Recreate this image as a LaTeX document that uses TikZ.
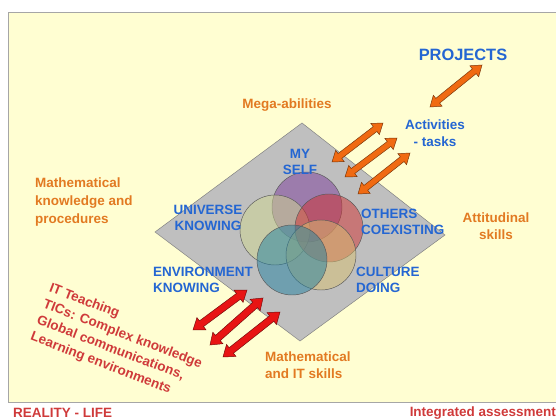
\documentclass[tikz,border=0pt]{standalone}
\usepackage{fontspec}
\setmainfont{Liberation Sans}
\usetikzlibrary{calc}
\definecolor{bgyellow}{HTML}{FFFED2}
\definecolor{lblblue}{HTML}{2466D2}
\definecolor{lblorange}{HTML}{E27A22}
\definecolor{lblred}{HTML}{CF3A3A}
\definecolor{diagray}{HTML}{BFBFBF}
\definecolor{arrorange}{HTML}{F06A12}
\definecolor{arrred}{HTML}{E81414}
\definecolor{cpurple}{HTML}{7A3A9A}
\definecolor{cgreen}{HTML}{D0D890}
\definecolor{cred}{HTML}{D03030}
\definecolor{cteal}{HTML}{2080A0}
\definecolor{ctan}{HTML}{D8C070}

\begin{document}
\begin{tikzpicture}[x=0.3mm,y=-0.3mm,
  dblarrow/.style n args={3}{to path={
    (\tikztostart)
    -- ($(\tikztostart)!#3!(\tikztotarget)!#1!90:(\tikztotarget)$)
    -- ($(\tikztostart)!#3!(\tikztotarget)!#2!90:(\tikztotarget)$)
    -- ($(\tikztotarget)!#3!(\tikztostart)!#2!-90:(\tikztostart)$)
    -- ($(\tikztotarget)!#3!(\tikztostart)!#1!-90:(\tikztostart)$)
    -- (\tikztotarget)
    -- ($(\tikztotarget)!#3!(\tikztostart)!#1!90:(\tikztostart)$)
    -- ($(\tikztotarget)!#3!(\tikztostart)!#2!90:(\tikztostart)$)
    -- ($(\tikztostart)!#3!(\tikztotarget)!#2!-90:(\tikztotarget)$)
    -- ($(\tikztostart)!#3!(\tikztotarget)!#1!-90:(\tikztotarget)$)
    -- cycle}},
  orange arrow/.style={dblarrow={6pt}{2.6pt}{8.5pt}, fill=arrorange, draw=arrorange!50!black, thin},
  red arrow/.style={dblarrow={6.5pt}{3pt}{9pt}, fill=arrred, draw=arrred!50!black, thin},
  blue lbl/.style={font=\bfseries\fontsize{11.5}{13.2}\selectfont, text=lblblue, align=center, inner sep=0pt},
  orange lbl/.style={font=\bfseries\fontsize{11.5}{15}\selectfont, text=lblorange, align=center, inner sep=0pt},
  red lbl/.style={font=\bfseries\fontsize{11.5}{14.8}\selectfont, text=lblred, inner sep=0pt},
  venn/.style={fill opacity=0.5, draw=black!65, thin}]
  \useasboundingbox (0,0) rectangle (556,419);
  % frame and diamond
  \draw[fill=bgyellow, draw=black!35, semithick] (8,12) rectangle (560,402);
  \draw[fill=diagray, draw=black!50, thin] (302,123) -- (445,235) -- (300,341) -- (155,232) -- cycle;
  % circles
  \draw[venn, fill=cpurple] (307,207) circle[radius=35];
  \draw[venn, fill=cgreen] (275,230) circle[radius=35];
  \draw[venn, fill=cred] (329,228) circle[radius=34];
  \draw[venn, fill=ctan] (321,255) circle[radius=35];
  \draw[venn, fill=cteal] (292,260) circle[radius=35];
  % labels
  \node[blue lbl, font=\bfseries\fontsize{14}{16}\selectfont] (PROJ) at (463,55) {PROJECTS};
  \node[blue lbl, font=\bfseries\fontsize{11.5}{14.5}\selectfont] (ACT) at (435,133) {Activities\\- tasks};
  \node[orange lbl] (MEGA) at (287,105) {Mega-abilities};
  \node[orange lbl, align=left, anchor=west] (MKP) at (35,202) {Mathematical\\knowledge and\\procedures};
  \node[orange lbl] (ATT) at (496,226) {Attitudinal\\skills};
  \node[orange lbl, align=left, anchor=west] (MIT) at (265,365) {Mathematical\\and IT skills};
  \node[blue lbl] (SELF) at (300,162) {MY\\SELF};
  \node[blue lbl] (UNIV) at (208,218) {UNIVERSE\\KNOWING};
  \node[blue lbl, align=left, anchor=west] (OTH) at (361,222) {OTHERS\\COEXISTING};
  \node[blue lbl, align=left, anchor=west] (ENV) at (153,280) {ENVIRONMENT\\KNOWING};
  \node[blue lbl, align=left, anchor=west] (CULT) at (356,280) {CULTURE\\DOING};
  \node[red lbl, rotate=-21, anchor=north west, align=left] (ITT) at (52,282)
    {IT Teaching\\TICs: Complex knowledge\\Global communications,\\Learning environments};
  \node[red lbl, anchor=west] (REAL) at (13,413) {REALITY - LIFE};
  \node[red lbl, anchor=east] (INTEG) at (556,413) {Integrated assessment};
  % arrow ends
  \coordinate (P1) at (430,107); \coordinate (P2) at (482,65);
  \coordinate (A1) at (332,162); \coordinate (B1) at (383,123);
  \coordinate (A2) at (345,177); \coordinate (B2) at (397,138);
  \coordinate (A3) at (358,194); \coordinate (B3) at (410,153);
  \coordinate (R1) at (193,330); \coordinate (S1) at (247,290);
  \coordinate (R2) at (210,345); \coordinate (S2) at (263,298);
  \coordinate (R3) at (223,357); \coordinate (S3) at (280,312);
  \path (P1) edge[orange arrow] (P2);
  \path (A1) edge[orange arrow] (B1);
  \path (A2) edge[orange arrow] (B2);
  \path (A3) edge[orange arrow] (B3);
  \path (R1) edge[red arrow] (S1);
  \path (R2) edge[red arrow] (S2);
  \path (R3) edge[red arrow] (S3);
\end{tikzpicture}
\end{document}
